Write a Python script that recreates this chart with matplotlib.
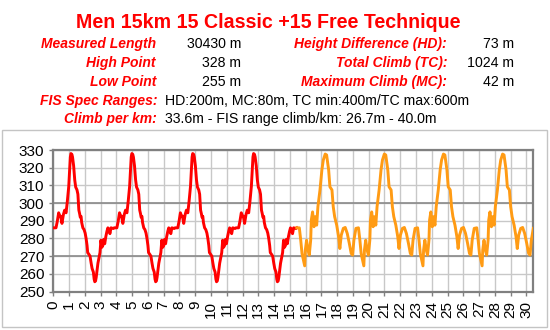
import matplotlib
matplotlib.use("Agg")
import matplotlib.pyplot as plt
from matplotlib.patches import Rectangle

plt.rcParams['font.family'] = ['Liberation Sans', 'DejaVu Sans']

# ---------------- data ----------------
title = "Men 15km 15 Classic +15 Free Technique"

info_left_labels = ["Measured Length", "High Point", "Low Point"]
info_left_values = ["30430 m", "328 m", "255 m"]
info_right_labels = ["Height Difference (HD):", "Total Climb (TC):", "Maximum Climb (MC):"]
info_right_values = ["73 m", "1024 m", "42 m"]
spec_labels = ["FIS Spec Ranges:", "Climb per km:"]
spec_values = ["HD:200m, MC:80m, TC min:400m/TC max:600m",
               "33.6m - FIS range climb/km: 26.7m - 40.0m"]

# classic loop profile (km within lap, elevation m)
classic_lap_km = [0.00, 0.17, 0.25, 0.34, 0.40, 0.47, 0.55, 0.64, 0.72, 0.81,
                  0.89, 0.98, 1.03, 1.08, 1.12, 1.18, 1.22, 1.29, 1.36, 1.42,
                  1.50, 1.56, 1.62, 1.67, 1.71, 1.76, 1.80, 1.875, 1.95, 2.02,
                  2.08, 2.14, 2.18, 2.26, 2.33, 2.40, 2.46, 2.54, 2.59, 2.63,
                  2.68, 2.72, 2.83, 2.96, 3.02, 3.08, 3.14, 3.20, 3.26, 3.33,
                  3.40, 3.46, 3.53, 3.59, 3.66, 3.80, 3.86]
classic_lap_elev = [286, 286, 289.5, 294.5, 293, 292.5, 288.5, 293.5, 296, 294.5,
                    301, 309.5, 318, 326, 328, 327.5, 326, 321, 313, 309,
                    307.5, 305, 296, 294, 292, 292.5, 289, 286, 285, 283,
                    280, 276, 272, 271, 270, 266, 263, 261, 257, 255.5,
                    256, 258, 266, 272, 279, 275, 276, 279.5, 277, 281,
                    284, 286, 285, 282.7, 286, 285.6, 286]
classic_lap_starts = [0.0, 3.86, 7.72, 11.58]

# free loop profile (km within lap, elevation m)
free_lap_km = [0.00, 0.16, 0.25, 0.33, 0.42, 0.50, 0.54, 0.62, 0.71, 0.79,
               0.88, 0.92, 1.00, 1.09, 1.17, 1.26, 1.34, 1.47, 1.59, 1.68,
               1.80, 1.89, 2.02, 2.10, 2.23, 2.31, 2.40, 2.53, 2.65, 2.73,
               2.82, 2.95, 3.07, 3.20, 3.33, 3.45, 3.54, 3.62, 3.75]
free_lap_elev = [286, 286, 279, 271.5, 267.7, 264.5, 273.4, 279, 273.4, 270.6,
                 279, 290.4, 295, 286.6, 292.3, 287.5, 298, 307.4, 318.7, 324.3,
                 327.7, 327.2, 318.7, 309.2, 307.4, 298, 292.3, 287.5, 281, 274.3,
                 281.9, 285.7, 286.2, 282.8, 277.2, 271.5, 270.6, 279, 285.7]
free_lap_starts = [15.44, 19.19, 22.94, 26.69]

x_ticks = list(range(0, 31))
y_ticks = list(range(250, 331, 10))
x_max = 30.43

# ---------------- assemble course ----------------
def course(starts, lap_km, lap_elev):
    xs, ys = [], []
    for i, s in enumerate(starts):
        k0 = 0 if i == 0 else 1
        xs += [s + k for k in lap_km[k0:]]
        ys += lap_elev[k0:]
    return xs, ys

cx, cy = course(classic_lap_starts, classic_lap_km, classic_lap_elev)
fx, fy = course(free_lap_starts, free_lap_km, free_lap_elev)

# ---------------- figure ----------------
W, H = 550, 330
fig = plt.figure(figsize=(W / 100, H / 100), dpi=100)
fig.patch.set_facecolor('white')

def fx_(px):
    return px / W

def fy_(py):
    return 1 - py / H

red = '#ff0000'
fig.text(fx_(268), fy_(22), title, color=red, fontsize=14.1, fontweight='bold',
         ha='center', va='center')

row_y = [44, 63, 82]
for i in range(3):
    fig.text(fx_(156), fy_(row_y[i]), info_left_labels[i], color=red, fontsize=10,
             fontweight='bold', style='italic', ha='right', va='center')
    fig.text(fx_(241), fy_(row_y[i]), info_left_values[i], color='black', fontsize=10.2,
             ha='right', va='center')
    fig.text(fx_(447), fy_(row_y[i]), info_right_labels[i], color=red, fontsize=10,
             fontweight='bold', style='italic', ha='right', va='center')
    fig.text(fx_(514), fy_(row_y[i]), info_right_values[i], color='black', fontsize=10.2,
             ha='right', va='center')

spec_y = [101, 119]
for i in range(2):
    fig.text(fx_(157), fy_(spec_y[i]), spec_labels[i], color=red, fontsize=10,
             fontweight='bold', style='italic', ha='right', va='center')
    fig.text(fx_(165), fy_(spec_y[i]), spec_values[i], color='black', fontsize=10.2,
             ha='left', va='center')

# outer chart frame
fig.patches.append(Rectangle((fx_(2), fy_(327)), (545) / W, (327 - 130) / H,
                             transform=fig.transFigure, fill=False,
                             edgecolor='#c4c4c4', linewidth=1))

left, right, top, bottom = 53.3, 533.2, 150.0, 291.5
ax = fig.add_axes([left / W, (H - bottom) / H, (right - left) / W, (bottom - top) / H])
ax.set_xlim(0, x_max)
ax.set_ylim(250, 330)
ax.set_xticks(x_ticks)
ax.set_xticklabels([str(t) for t in x_ticks], rotation=90)
ax.set_yticks(y_ticks)
ax.tick_params(axis='both', labelsize=11, length=3, width=1, color='#808080', pad=3.5)
ax.grid(True, color='#c8c8c8', linewidth=1)
ax.set_axisbelow(True)
for yv in (270, 300):
    ax.axhline(yv, color='#8a8a8a', linewidth=1.2, zorder=1)
for s in ax.spines.values():
    s.set_color('#808080')
    s.set_linewidth(1.6)

ax.plot(cx, cy, color=red, linewidth=2.1, zorder=3, solid_joinstyle='round')
ax.plot(fx, fy, color='#ff9b14', linewidth=2.1, zorder=3, solid_joinstyle='round')

fig.savefig('out.png', dpi=100)
